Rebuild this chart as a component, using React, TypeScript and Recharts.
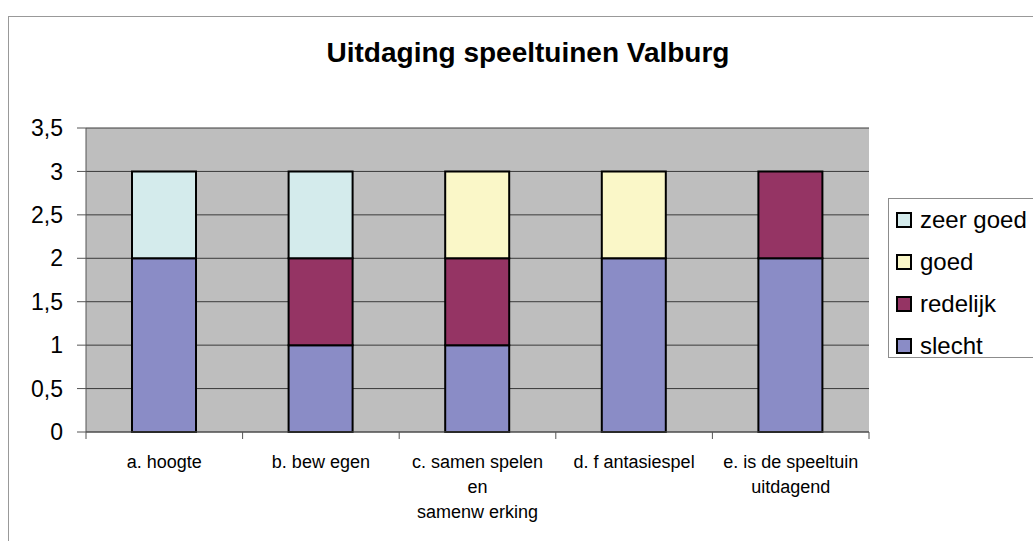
import React from "react";
import { Bar, BarChart, CartesianGrid, Legend, XAxis, YAxis } from "recharts";

const categories = ["a. hoogte", "b. bew egen", "c. samen spelen en samenw erking", "d. f antasiespel", "e. is de speeltuin uitdagend"];
const categoryLines = [["a. hoogte"], ["b. bew egen"], ["c. samen spelen", "en", "samenw erking"], ["d. f antasiespel"], ["e. is de speeltuin", "uitdagend"]];
const slecht = [2, 1, 1, 2, 2];
const redelijk = [0, 1, 1, 0, 1];
const goed = [0, 0, 1, 1, 0];
const zeerGoed = [1, 1, 0, 0, 0];
const yTicks = [0, 0.5, 1, 1.5, 2, 2.5, 3, 3.5];

const series = [
  { key: "slecht", name: "slecht", color: "#8A8CC6" },
  { key: "redelijk", name: "redelijk", color: "#953464" },
  { key: "goed", name: "goed", color: "#FAF7C8" },
  { key: "zeerGoed", name: "zeer goed", color: "#D4EBEC" },
];

const data = categories.map((c, i) => ({
  category: c,
  slecht: slecht[i],
  redelijk: redelijk[i],
  goed: goed[i],
  zeerGoed: zeerGoed[i],
}));

const font = "'Liberation Sans', Arial, sans-serif";

function CategoryTick(props: any) {
  const { x, y, payload, index } = props;
  const off = payload?.offset ?? 0;
  const i = payload?.index ?? index;
  const lines = categoryLines[i] ?? [String(payload?.value)];
  const last = i === categories.length - 1;
  return (
    <g>
      <line x1={x - off} x2={x - off} y1={y} y2={y + 7} stroke="#555" />
      {last && <line x1={x + off} x2={x + off} y1={y} y2={y + 7} stroke="#555" />}
      {lines.map((l: string, k: number) => (
        <text key={k} x={x} y={y + 36 + k * 25} textAnchor="middle" fontSize={18} fontFamily={font} fill="#000">
          {l}
        </text>
      ))}
    </g>
  );
}

function LegendBox() {
  return (
    <div style={{ border: "1px solid #8c8c8c", width: 170, height: 160, boxSizing: "border-box", background: "#fff" }}>
      {[...series].reverse().map((s) => (
        <div key={s.key} style={{ display: "flex", alignItems: "center", height: 42, fontFamily: font, fontSize: 24, color: "#000" }}>
          <span style={{ width: 12, height: 12, border: "2px solid #000", background: s.color, marginLeft: 7, marginRight: 8, display: "inline-block" }} />
          <span>{s.name}</span>
        </div>
      ))}
    </div>
  );
}

export default function App() {
  return (
    <div style={{ position: "absolute", left: 0, top: 0, width: 1033, height: 541, overflow: "hidden", background: "#fff" }}>
      <div style={{ position: "absolute", left: 8, top: 16, width: 1100, height: 600, border: "1px solid #999" }} />
      <div style={{ position: "absolute", left: 0, top: 37, width: 1056, textAlign: "center", fontFamily: font, fontWeight: "bold", fontSize: 28, lineHeight: "32px", color: "#000" }}>
        Uitdaging speeltuinen Valburg
      </div>
      <div style={{ position: "absolute", left: 0, top: 0 }}>
        <BarChart width={1033} height={541} data={data} margin={{ top: 128, right: 164, bottom: 29, left: 16 }}>
          <CartesianGrid vertical={false} fill="#BEBEBE" fillOpacity={1} stroke="#3a3a3a" strokeWidth={1} />
          <XAxis dataKey="category" interval={0} height={80} tickLine={false} tickSize={0} tickMargin={0} axisLine={{ stroke: "#555" }} tick={<CategoryTick />} />
          <YAxis
            domain={[0, 3.5]}
            ticks={yTicks}
            width={70}
            tickSize={9}
            tickMargin={14}
            axisLine={{ stroke: "#555" }}
            tickLine={{ stroke: "#555" }}
            tick={{ fontSize: 23, fontFamily: font, fill: "#000" }}
            tickFormatter={(v: number) => String(v).replace(".", ",")}
          />
          <YAxis yAxisId="frame" orientation="right" width={0} domain={[0, 1]} tick={false} tickLine={false} axisLine={{ stroke: "#808080", strokeWidth: 2 }} />
          {series.map((s) => (
            <Bar key={s.key} dataKey={s.key} name={s.name} stackId="a" fill={s.color} stroke="#000" strokeWidth={2} barSize={64} isAnimationActive={false} />
          ))}
          <Legend
            layout="vertical"
            align="center"
            verticalAlign="middle"
            content={() => <LegendBox />}
            wrapperStyle={{ left: 888, top: 198, width: 170, height: 160 }}
          />
        </BarChart>
      </div>
    </div>
  );
}
